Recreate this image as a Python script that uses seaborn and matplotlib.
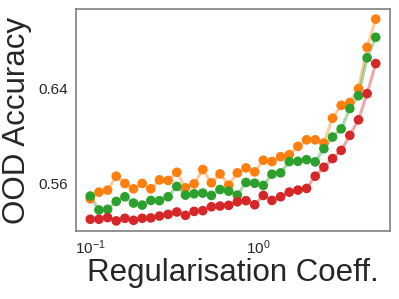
import numpy as np
import pandas as pd
import matplotlib
matplotlib.use("Agg")
import matplotlib.pyplot as plt
import seaborn as sns

# regularisation coefficients (log-spaced sweep, 0.1 .. 5)
coeffs = [0.1, 0.1126, 0.1268, 0.1427, 0.1607, 0.1809, 0.2037, 0.2293, 0.2582,
          0.2906, 0.3272, 0.3684, 0.4148, 0.4670, 0.5257, 0.5919, 0.6664, 0.7503,
          0.8447, 0.9513, 1.071, 1.206, 1.358, 1.529, 1.721, 1.938, 2.182, 2.457,
          2.766, 3.113, 3.505, 3.947, 4.443, 5.0]

acc_orange = [0.5471, 0.5527, 0.5544, 0.5661, 0.5600, 0.5555, 0.5600, 0.5555, 0.5630,
              0.5625, 0.5694, 0.5563, 0.5597, 0.5717, 0.5605, 0.5680, 0.5586, 0.5689,
              0.5731, 0.5697, 0.5795, 0.5784, 0.5825, 0.5842, 0.5912, 0.5967, 0.5967,
              0.5940, 0.6149, 0.6257, 0.6280, 0.6397, 0.6745, 0.6982]

acc_green = [0.5494, 0.5377, 0.5382, 0.5449, 0.5488, 0.5435, 0.5418, 0.5457, 0.5455,
             0.5488, 0.5575, 0.5502, 0.5513, 0.5519, 0.5499, 0.5549, 0.5535, 0.5502,
             0.5608, 0.5602, 0.5583, 0.5678, 0.5689, 0.5784, 0.5786, 0.5800, 0.5781,
             0.5892, 0.5990, 0.6059, 0.6230, 0.6338, 0.6656, 0.6829]

acc_red = [0.5299, 0.5299, 0.5313, 0.5285, 0.5307, 0.5290, 0.5307, 0.5310, 0.5326,
           0.5340, 0.5360, 0.5332, 0.5365, 0.5371, 0.5404, 0.5410, 0.5416, 0.5446,
           0.5455, 0.5421, 0.5499, 0.5457, 0.5488, 0.5527, 0.5544, 0.5558, 0.5661,
           0.5736, 0.5809, 0.5878, 0.6004, 0.6135, 0.6355, 0.6608]

series = [("orange", acc_orange, "tab:orange"),
          ("green", acc_green, "tab:green"),
          ("red", acc_red, "tab:red")]

sns.set_theme(style="white")
plt.rcParams['font.family'] = ['Liberation Sans', 'DejaVu Sans']

fig, ax = plt.subplots(figsize=(3.99, 2.99), dpi=100)
fig.subplots_adjust(left=76/399, right=390/399, top=1-9/299, bottom=1-231/299)

for name, vals, col in series:
    df = pd.DataFrame({"coef": coeffs, "acc": vals})
    sns.lineplot(data=df, x="coef", y="acc", color=col, alpha=0.4, lw=2.2, ax=ax)
    sns.scatterplot(data=df, x="coef", y="acc", color=col, s=48,
                    edgecolor="none", ax=ax, zorder=3)

ax.set_xscale("log")
ax.set_yticks([0.56, 0.64])
ax.set_yticklabels(["0.56", "0.64"])
ax.tick_params(labelsize=11, colors="#262626")
ax.tick_params(axis="x", which="both", length=0, pad=5)
ax.tick_params(axis="y", length=0, pad=5.5)
ax.set_xlabel("Regularisation Coeff.", fontsize=22.5, color="#262626", labelpad=1)
ax.set_ylabel("OOD Accuracy", fontsize=22.5, color="#262626", labelpad=5)
for sp in ax.spines.values():
    sp.set_color("#808080")
    sp.set_linewidth(1.2)

fig.savefig("out.png", dpi=100)
